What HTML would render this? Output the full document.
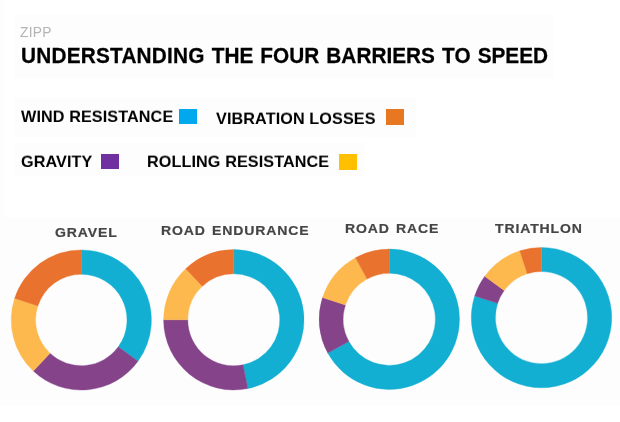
<!DOCTYPE html>
<html><head><meta charset="utf-8"><title>Four barriers to speed</title>
<style>
html,body{margin:0;padding:0;}
body{width:620px;height:422px;background:#fff;position:relative;overflow:hidden;font-family:"Liberation Sans",sans-serif;}
.t{position:absolute;white-space:nowrap;line-height:1;font-weight:bold;color:#000;will-change:transform;}
.sq{position:absolute;}
.d{position:absolute;left:0;top:0;}
#zipp{left:20.3px;top:26px;font-size:13.8px;font-weight:normal;color:#b4b4b4;letter-spacing:0.25px;}
#title{left:20.5px;top:46px;font-size:20.8px;letter-spacing:0px;word-spacing:1.3px;-webkit-text-stroke:0.25px #000;transform:scaleY(1.07);transform-origin:0 80%;}
.lg{font-size:16.2px;letter-spacing:0.1px;transform:scaleY(0.95);transform-origin:0 84.6%;}
.lb{font-size:13px;letter-spacing:0.8px;word-spacing:1.3px;color:#454545;transform:scaleX(1.08);transform-origin:0 0;-webkit-text-stroke:0.2px #454545;}
.bg{position:absolute;background:#fdfdfd;}
</style></head><body>
<div class="bg" style="left:0;top:0;width:4px;height:217px;background:#fdfdfd;"></div>
<div class="bg" style="left:14px;top:14px;width:539px;height:65px;"></div>
<div class="bg" style="left:14px;top:97px;width:402px;height:40px;"></div>
<div class="bg" style="left:14px;top:143px;width:351px;height:33px;"></div>
<div class="bg" style="left:0;top:217px;width:620px;height:188px;background:#fdfdfd;"></div>
<svg class="d" width="620" height="422" viewBox="0 0 620 422">
<path d="M81.30 249.90A70.1 70.1 0 0 1 138.01 361.20L118.27 346.86A45.7 45.7 0 0 0 81.30 274.30Z" fill="#12afd2" stroke="#12afd2" stroke-width="0.35"/>
<path d="M138.01 361.20A70.1 70.1 0 0 1 33.31 371.10L50.02 353.31A45.7 45.7 0 0 0 118.27 346.86Z" fill="#85448a" stroke="#85448a" stroke-width="0.35"/>
<path d="M33.31 371.10A70.1 70.1 0 0 1 14.63 298.34L37.84 305.88A45.7 45.7 0 0 0 50.02 353.31Z" fill="#fdb94e" stroke="#fdb94e" stroke-width="0.35"/>
<path d="M14.63 298.34A70.1 70.1 0 0 1 81.30 249.90L81.30 274.30A45.7 45.7 0 0 0 37.84 305.88Z" fill="#e8722e" stroke="#e8722e" stroke-width="0.35"/>
<path d="M233.80 249.60A70.2 70.2 0 0 1 247.82 388.59L242.99 364.87A46 46 0 0 0 233.80 273.80Z" fill="#12afd2" stroke="#12afd2" stroke-width="0.35"/>
<path d="M247.82 388.59A70.2 70.2 0 0 1 163.60 319.80L187.80 319.80A46 46 0 0 0 242.99 364.87Z" fill="#85448a" stroke="#85448a" stroke-width="0.35"/>
<path d="M163.60 319.80A70.2 70.2 0 0 1 185.74 268.63L202.31 286.27A46 46 0 0 0 187.80 319.80Z" fill="#fdb94e" stroke="#fdb94e" stroke-width="0.35"/>
<path d="M185.74 268.63A70.2 70.2 0 0 1 233.80 249.60L233.80 273.80A46 46 0 0 0 202.31 286.27Z" fill="#e8722e" stroke="#e8722e" stroke-width="0.35"/>
<path d="M389.30 249.10A70.2 70.2 0 1 1 327.78 353.12L348.90 341.51A46.1 46.1 0 1 0 389.30 273.20Z" fill="#12afd2" stroke="#12afd2" stroke-width="0.35"/>
<path d="M327.78 353.12A70.2 70.2 0 0 1 322.54 297.61L345.46 305.05A46.1 46.1 0 0 0 348.90 341.51Z" fill="#85448a" stroke="#85448a" stroke-width="0.35"/>
<path d="M322.54 297.61A70.2 70.2 0 0 1 355.48 257.78L367.09 278.90A46.1 46.1 0 0 0 345.46 305.05Z" fill="#fdb94e" stroke="#fdb94e" stroke-width="0.35"/>
<path d="M355.48 257.78A70.2 70.2 0 0 1 389.30 249.10L389.30 273.20A46.1 46.1 0 0 0 367.09 278.90Z" fill="#e8722e" stroke="#e8722e" stroke-width="0.35"/>
<path d="M541.50 247.40A70.2 70.2 0 1 1 474.74 295.91L497.66 303.35A46.1 46.1 0 1 0 541.50 271.50Z" fill="#12afd2" stroke="#12afd2" stroke-width="0.35"/>
<path d="M474.74 295.91A70.2 70.2 0 0 1 484.71 276.34L504.20 290.50A46.1 46.1 0 0 0 497.66 303.35Z" fill="#85448a" stroke="#85448a" stroke-width="0.35"/>
<path d="M484.71 276.34A70.2 70.2 0 0 1 519.81 250.84L527.25 273.76A46.1 46.1 0 0 0 504.20 290.50Z" fill="#fdb94e" stroke="#fdb94e" stroke-width="0.35"/>
<path d="M519.81 250.84A70.2 70.2 0 0 1 541.50 247.40L541.50 271.50A46.1 46.1 0 0 0 527.25 273.76Z" fill="#e8722e" stroke="#e8722e" stroke-width="0.35"/>
</svg>
<div class="t" id="zipp">ZIPP</div>
<div class="t" id="title"><span style="letter-spacing:0.2px">UNDERSTANDING</span> THE FOUR BARRIERS TO SPEED</div>
<div class="t lg" id="l1" style="left:20.5px;top:108.3px;">WIND RESISTANCE</div>
<div class="sq" style="left:179px;top:109px;width:18px;height:15.3px;background:#00a8ee;"></div>
<div class="t lg" id="l2" style="left:216px;top:109.6px;">VIBRATION LOSSES</div>
<div class="sq" style="left:385.5px;top:109.3px;width:18px;height:15.5px;background:#e87722;"></div>
<div class="t lg" id="l3" style="left:21px;top:153px;">GRAVITY</div>
<div class="sq" style="left:100.5px;top:154.4px;width:18px;height:14.5px;background:#7030a0;"></div>
<div class="t lg" id="l4" style="left:147px;top:153px;">ROLLING RESISTANCE</div>
<div class="sq" style="left:339.3px;top:154.3px;width:17.8px;height:15.5px;background:#ffc000;"></div>
<div class="t lb" id="b1" style="left:54.5px;top:225.7px;">GRAVEL</div>
<div class="t lb" id="b2" style="left:160.7px;top:223.6px;">ROAD ENDURANCE</div>
<div class="t lb" id="b3" style="left:344.6px;top:221.6px;">ROAD RACE</div>
<div class="t lb" id="b4" style="left:495px;top:221.6px;">TRIATHLON</div>
</body></html>
